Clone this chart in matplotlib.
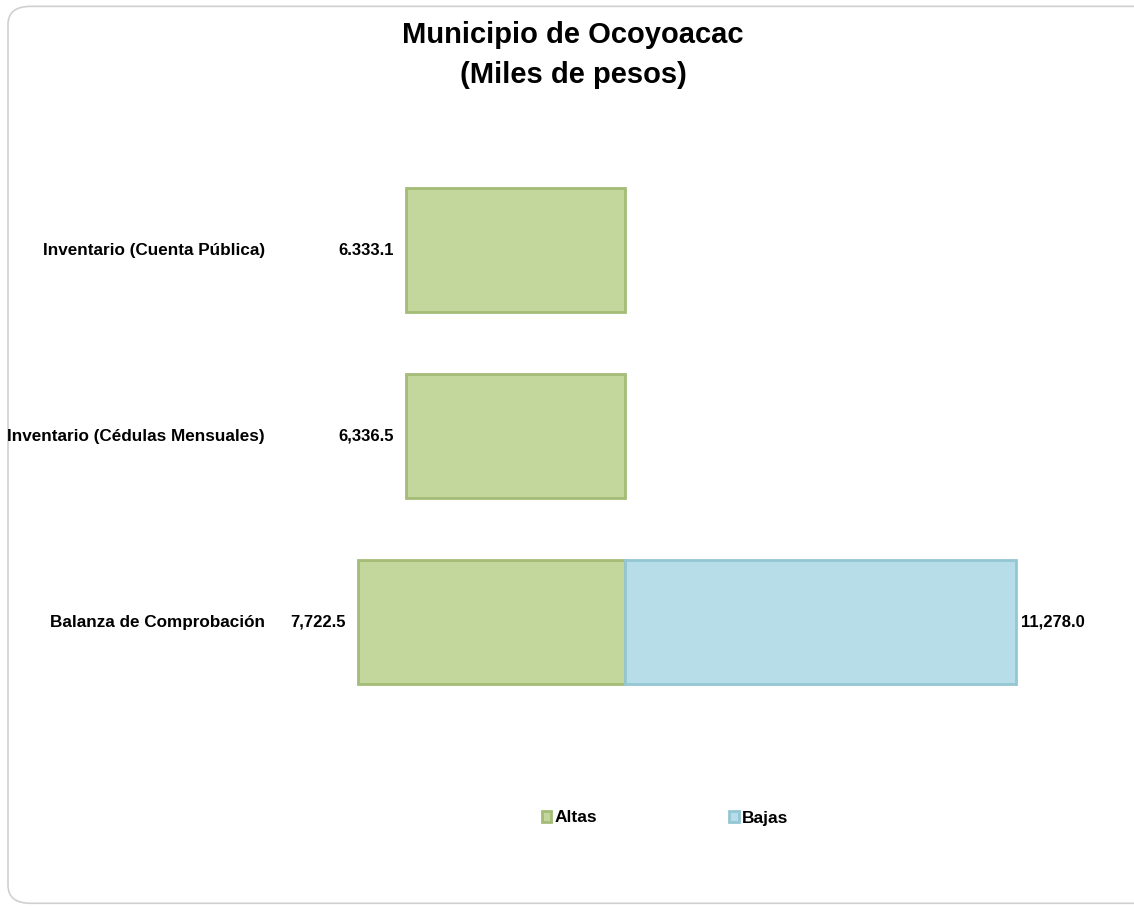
# Altas / Bajas por fuente - Municipio de Ocoyoacac
import matplotlib.pyplot as plt
from matplotlib.patches import FancyBboxPatch

plt.rcParams['font.family'] = ['Liberation Sans', 'DejaVu Sans']

categories = ["Inventario (Cuenta Pública)", "Inventario (Cédulas Mensuales)", "Balanza de Comprobación"]
altas = [6333.1, 6336.5, 7722.5]
bajas = [0.0, 0.0, 11278.0]
altas_labels = ["6.333.1", "6,336.5", "7,722.5"]
bajas_labels = ["", "", "11,278.0"]

green = "#C3D69B"
green_edge = "#A4BC78"
blue = "#B7DDE8"
blue_edge = "#94C6D3"

fig = plt.figure(figsize=(11.34, 9.06), dpi=100)

# rounded chart border
border = FancyBboxPatch((8 / 1134, 0.003), 1.2, 0.99, boxstyle="round,pad=0,rounding_size=0.02",
                        transform=fig.transFigure, facecolor="none", edgecolor="#D0D0D0", lw=1.2, zorder=-1)
fig.patches.append(border)

ax = fig.add_axes([296 / 1134, 0.2108, 800 / 1134, 0.6159])
y = list(range(len(categories)))

ax.barh(y, [-a for a in altas], height=0.667, color=green, edgecolor=green_edge, linewidth=2, label="Altas")
# only categories with bajas get a bar (avoid zero-width edges)
yb = [i for i in y if bajas[i] > 0]
ax.barh(yb, [bajas[i] for i in yb], height=0.667, color=blue, edgecolor=blue_edge, linewidth=2, label="Bajas")

ax.set_xlim(-9500, 13600)
ax.set_ylim(2.5, -0.5)

for i in y:
    ax.text(-altas[i] - 350, i, altas_labels[i], ha="right", va="center", fontsize=12, fontweight="bold")
    if bajas[i] > 0:
        ax.text(bajas[i] + 150, i, bajas_labels[i], ha="left", va="center", fontsize=12, fontweight="bold")
    fig.text(265 / 1134, ax.transData.transform((0, i))[1] / 906, categories[i],
             ha="right", va="center", fontsize=12.3, fontweight="bold")

ax.axis("off")

fig.text(573 / 1134, 1 - 35 / 906, "Municipio de Ocoyoacac", ha="center", va="center", fontsize=21, fontweight="bold")
fig.text(573 / 1134, 1 - 75 / 906, "(Miles de pesos)", ha="center", va="center", fontsize=21, fontweight="bold")

leg = fig.legend(loc="center", bbox_to_anchor=(665 / 1134, 1 - 818 / 906), ncol=2, frameon=False,
                 handlelength=0.55, handleheight=0.55, handletextpad=0.2, columnspacing=7.6,
                 prop={"weight": "bold", "size": 12.5})

fig.savefig("out.png", dpi=100)
